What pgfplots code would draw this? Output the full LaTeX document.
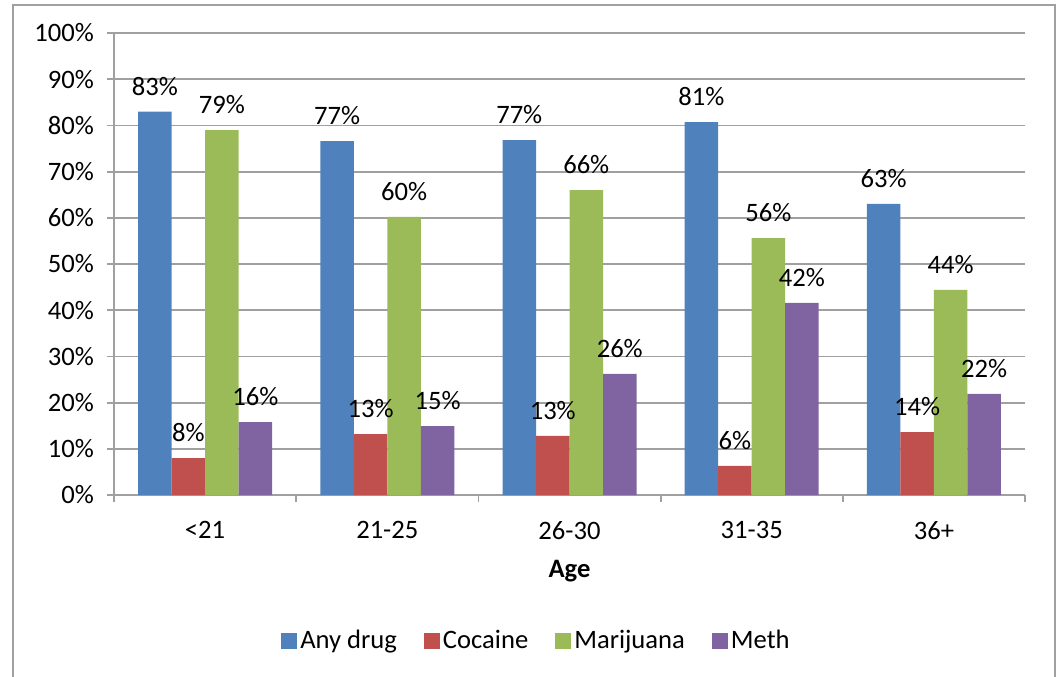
\documentclass[border=0pt]{standalone}
\usepackage{pgfplots}
\pgfplotsset{compat=1.18}
\usepackage{fontspec}
\setmainfont{Carlito}
\newcommand\cf{\fontsize{13.3}{16}\selectfont}
\definecolor{cAny}{HTML}{4F81BD}
\definecolor{cCoc}{HTML}{C0504D}
\definecolor{cMar}{HTML}{9BBB59}
\definecolor{cMeth}{HTML}{8064A2}
\definecolor{gridc}{HTML}{A0A0A0}
\begin{document}
\begin{tikzpicture}
\useasboundingbox (-57pt,-90.5pt) rectangle (472pt,247.5pt);
\draw[gridc,line width=0.9pt] (-50.5pt,-100pt) -- (-50.5pt,245pt) -- (470.5pt,245pt) -- (470.5pt,-100pt);
\begin{axis}[
  at={(0,0)}, anchor=south west,
  scale only axis, width=455.5pt, height=231pt,
  xmin=-0.5, xmax=4.5, ymin=0, ymax=100,
  ybar=0pt, bar width=16.75pt,
  axis x line*=bottom, axis y line*=left,
  axis line style={gridc,line width=0.9pt,-},
  ymajorgrids, grid style={gridc,line width=0.9pt},
  tick align=outside,
  xtick={0,1,2,3,4},
  xticklabels={<21,21-25,26-30,31-35,36+},
  minor xtick={-0.5,0.5,1.5,2.5,3.5,4.5},
  major x tick style={draw=none},
  minor tick length=3.5pt, major tick length=3.5pt,
  tick style={gridc,line width=0.9pt},
  ytick={0,10,...,100},
  yticklabels={0\%,10\%,20\%,30\%,40\%,50\%,60\%,70\%,80\%,90\%,100\%},
  /pgf/number format/assume math mode=true,
  every tick label/.append style={font=\cf, text=black},
  xticklabel style={yshift=-6pt},
  yticklabel style={xshift=-3pt},
  xlabel={Age},
  xlabel style={font=\cf\bfseries, at={(axis description cs:0.5,0)}, anchor=center, yshift=-38pt},
  point meta=y,
  nodes near coords={\pgfmathprintnumber[fixed,precision=0]{\pgfplotspointmeta}\%},
  every node near coord/.append style={font=\cf, text=black, yshift=4.5pt},
  legend image code/.code={\fill[#1] (0pt,-4pt) rectangle (8pt,4pt);},
  legend style={draw=none, fill=none, font=\cf, legend columns=4,
    at={(axis description cs:0.4643,-0.316)}, anchor=center,
    /tikz/every even column/.append style={column sep=12pt},
    nodes={inner sep=1.5pt}},
]
\addplot[fill=cAny, draw=none] coordinates {(0,83) (1,76.6) (2,76.8) (3,80.7) (4,63)};
\addplot[fill=cCoc, draw=none] coordinates {(0,8) (1,13.2) (2,12.8) (3,6.3) (4,13.6)};
\addplot[fill=cMar, draw=none] coordinates {(0,79) (1,60.2) (2,66) (3,55.6) (4,44.4)};
\addplot[fill=cMeth, draw=none] coordinates {(0,15.8) (1,14.9) (2,26.2) (3,41.6) (4,21.9)};
\legend{Any drug,Cocaine,Marijuana,Meth}
\end{axis}
\end{tikzpicture}
\end{document}
